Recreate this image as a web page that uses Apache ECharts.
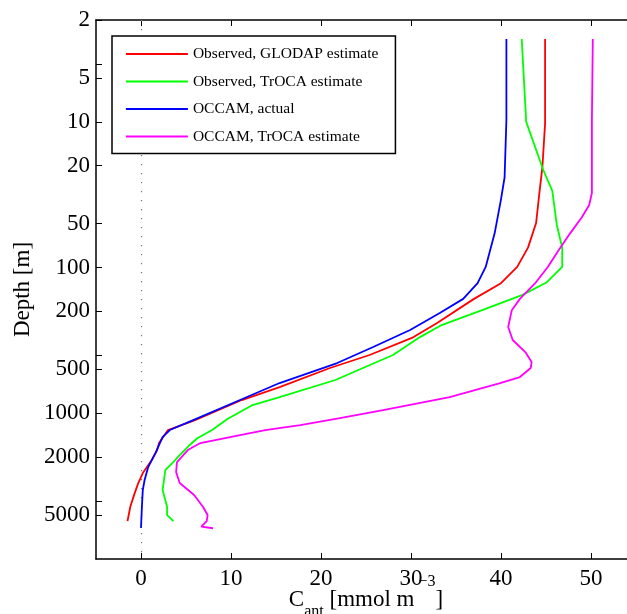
<!DOCTYPE html>
<html>
<head>
<meta charset="utf-8">
<script src="https://cdn.jsdelivr.net/npm/echarts@6/dist/echarts.min.js"></script>
<style>
  html, body { margin: 0; padding: 0; background: #ffffff; }
  #chart { width: 627px; height: 614px; }
</style>
</head>
<body>
<div id="chart"></div>
<script>
// Anthropogenic carbon profiles, C_ant [mmol m^-3] against depth [m]

// Axis ticks
const depthLabelTicks = [2, 5, 10, 20, 50, 100, 200, 500, 1000, 2000, 5000];
const depthMinorTicks = [4, 400, 4000];
const cantTicks = [0, 10, 20, 30, 40, 50];

// Observed, GLODAP estimate
const glodapDepth = [2.7, 10.2, 20.4, 29.4, 49.5, 73, 99, 128, 164, 240, 304, 398, 489, 661, 811, 1113, 1303, 1600, 1790, 2090, 2570, 3010, 3530, 4400, 4760, 5490];
const glodapCant  = [44.9, 44.9, 44.6, 44.3, 43.9, 43.0, 41.8, 40.0, 37.0, 32.9, 30.1, 25.4, 21.0, 15.4, 11.2, 6.0, 3.0, 2.0, 1.8, 1.2, 0.2, -0.3, -0.7, -1.2, -1.3, -1.5];

// Observed, TrOCA estimate
const trocaObsDepth = [2.7, 10.0, 21.4, 29.8, 51, 73, 99, 126, 154, 196, 248, 300, 398, 591, 774, 878, 1095, 1303, 1479, 1652, 1935, 2094, 2452, 3364, 4401, 4994, 5492];
const trocaObsCant  = [42.3, 42.8, 44.7, 45.7, 46.2, 46.8, 46.8, 45.1, 42.4, 37.9, 33.4, 31.0, 28.0, 21.6, 15.4, 12.4, 9.6, 7.9, 6.3, 5.4, 4.3, 3.8, 2.7, 2.4, 2.9, 2.9, 3.6];

// OCCAM, actual
const occamDepth = [2.7, 9.7, 24, 34, 58, 99, 128, 164, 205, 268, 351, 452, 620, 811, 1113, 1303, 1456, 1600, 1875, 2340, 2870, 3360, 4400, 6130];
const occamCant  = [40.6, 40.6, 40.4, 40.0, 39.3, 38.3, 37.4, 35.8, 33.2, 29.9, 25.8, 21.8, 15.4, 11.0, 5.8, 3.2, 2.4, 2.1, 1.6, 0.8, 0.4, 0.2, 0.1, 0.0];

// OCCAM, TrOCA estimate
const occamTrocaDepth = [2.7, 9.7, 30.8, 37.2, 45, 58, 76, 99, 128, 164, 196, 256, 314, 380, 445, 489, 564, 620, 774, 950, 1078, 1204, 1303, 1456, 1601, 1788, 2161, 2532, 3012, 3640, 4401, 4994, 5492, 5990, 6150];
const occamTrocaCant  = [50.2, 50.1, 50.1, 49.8, 49.0, 47.7, 46.4, 45.2, 43.8, 42.1, 41.2, 40.8, 41.3, 42.7, 43.4, 43.3, 42.1, 39.9, 34.3, 26.9, 22.1, 17.7, 13.8, 9.9, 6.6, 5.2, 4.0, 3.9, 4.3, 5.9, 6.9, 7.4, 7.3, 6.7, 8.0];

const seriesNames = ['Observed, GLODAP estimate', 'Observed, TrOCA estimate', 'OCCAM, actual', 'OCCAM, TrOCA estimate'];
const seriesColors = ['#ff0000', '#00ff00', '#0000ff', '#ff00ff'];

function pairs(xs, ys) {
  return xs.map((x, i) => [x, ys[i]]);
}

const FONT = "'Liberation Serif', 'Times New Roman', serif";
const chart = echarts.init(document.getElementById('chart'), null, { renderer: 'canvas' });

const profiles = [
  [glodapCant, glodapDepth],
  [trocaObsCant, trocaObsDepth],
  [occamCant, occamDepth],
  [occamTrocaCant, occamTrocaDepth]
];

const series = profiles.map((p, i) => ({
  name: seriesNames[i],
  type: 'line',
  xAxisIndex: 0,
  yAxisIndex: 0,
  data: pairs(p[0], p[1]),
  showSymbol: false,
  symbol: 'none',
  lineStyle: { color: seriesColors[i], width: 1.8 },
  itemStyle: { color: seriesColors[i] },
  z: 3 + i
}));

// dotted zero line
series[0].markLine = {
  silent: true,
  symbol: ['none', 'none'],
  label: { show: false },
  lineStyle: { color: '#777777', type: [1.3, 7.7], width: 1.2 },
  data: [{ xAxis: 0 }],
  z: 1
};

const axisLineStyle = { color: '#000', width: 1.5 };

chart.setOption({
  animation: false,
  backgroundColor: '#ffffff',
  textStyle: { fontFamily: FONT, color: '#000' },
  grid: { left: 96, right: -9, top: 20, bottom: 55, containLabel: false, outerBoundsMode: 'none' },
  legend: {
    orient: 'vertical',
    left: 112,
    top: 36,
    padding: [10, 17, 9, 13],
    itemWidth: 62,
    itemHeight: 18,
    itemGap: 11.5,
    backgroundColor: '#ffffff',
    borderColor: '#000',
    borderWidth: 1.5,
    borderRadius: 0,
    itemStyle: { opacity: 0 },
    lineStyle: { width: 1.8 },
    textStyle: { fontFamily: FONT, fontSize: 15.5, color: '#000' },
    data: seriesNames,
    z: 10
  },
  xAxis: [
    {
      type: 'value',
      position: 'bottom',
      min: -5,
      max: 55,
      name: '{c|C}{sub|ant}{u| [mmol m}{sup|−3}{u|]}',
      nameLocation: 'middle',
      nameGap: 15,
      nameMoveOverlap: false,
      nameTextStyle: {
        fontFamily: FONT,
        color: '#000',
        rich: {
          c: { fontFamily: FONT, fontSize: 23, color: '#000', lineHeight: 52 },
          u: { fontFamily: FONT, fontSize: 23, color: '#000', lineHeight: 52 },
          sub: { fontFamily: FONT, fontSize: 16, color: '#000', verticalAlign: 'bottom', padding: [0, 0, 6, 0] },
          sup: { fontFamily: FONT, fontSize: 16, color: '#000', verticalAlign: 'top', lineHeight: 14, padding: [0, 0, 0, 4] }
        }
      },
      axisLine: { show: true, onZero: false, lineStyle: axisLineStyle },
      axisTick: { show: true, inside: true, length: 6, customValues: cantTicks, lineStyle: { color: '#000', width: 1 } },
      axisLabel: { customValues: cantTicks, fontFamily: FONT, fontSize: 23, color: '#000', margin: 8 },
      splitLine: { show: false }
    },
    {
      type: 'value',
      position: 'top',
      min: -5,
      max: 55,
      axisLine: { show: true, onZero: false, lineStyle: axisLineStyle },
      axisTick: { show: true, inside: true, length: 6, customValues: cantTicks, lineStyle: { color: '#000', width: 1 } },
      axisLabel: { show: false },
      splitLine: { show: false }
    }
  ],
  yAxis: [
    {
      type: 'log',
      logBase: 10,
      min: 2,
      max: 10000,
      inverse: true,
      name: 'Depth [m]',
      nameLocation: 'middle',
      nameGap: 62,
      nameMoveOverlap: false,
      nameTextStyle: { fontFamily: FONT, fontSize: 23, color: '#000' },
      axisLine: { show: true, onZero: false, lineStyle: axisLineStyle },
      axisTick: { show: true, inside: true, length: 6, customValues: depthLabelTicks.concat(depthMinorTicks), lineStyle: { color: '#000', width: 1 } },
      axisLabel: {
        customValues: depthLabelTicks,
        fontFamily: FONT, fontSize: 23, color: '#000', margin: 6,
        formatter: (v) => String(Math.round(v))
      },
      splitLine: { show: false },
      minorTick: { show: false }
    }
  ],
  series: series
});
</script>
</body>
</html>
